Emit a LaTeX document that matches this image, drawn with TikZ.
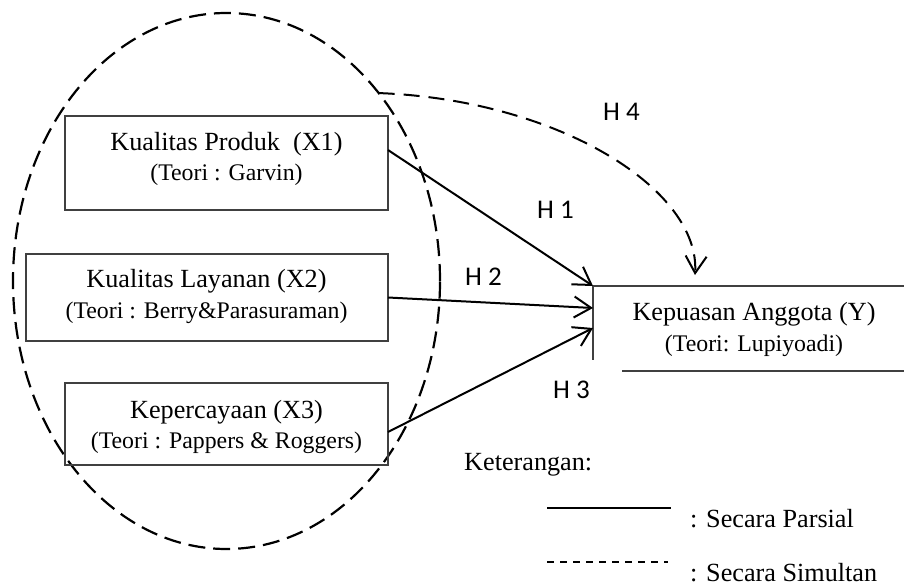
\documentclass[tikz,border=0pt]{standalone}
\usepackage{fontspec}
\setmainfont{Liberation Serif}
\newfontfamily\hfont{Carlito}
\usetikzlibrary{arrows.meta,shapes.geometric}
\definecolor{boxgray}{HTML}{404040}
\begin{document}
\begin{tikzpicture}[x=1pt,y=-1pt,
  boxnode/.style={draw=boxgray,line width=1.3pt,inner sep=0pt,outer sep=0pt},
  tbig/.style={font=\fontsize{26.2pt}{30pt}\selectfont,anchor=base,inner sep=0pt},
  tsmall/.style={font=\fontsize{23.8pt}{28pt}\selectfont,anchor=base,inner sep=0pt},
  tleg/.style={font=\fontsize{26.2pt}{30pt}\selectfont,anchor=base west,inner sep=0pt},
  hlab/.style={font=\hfont\fontsize{27pt}{30pt}\selectfont,anchor=base west,inner sep=0pt},
  barb/.style={-{Straight Barb[length=17pt,width=21pt,line width=2pt]}},
  solidarrow/.style={barb,line width=2pt},
  simarrow/.style={barb,line width=2pt,dash pattern=on 16pt off 9pt},
  ylines/.style={draw=boxgray,line width=1.5pt}
]
\useasboundingbox (0,0) rectangle (904,586);

% dashed ellipse
\node[ellipse,draw,line width=2.2pt,dash pattern=on 17pt off 8pt,inner sep=0pt,outer sep=0pt,
      minimum width=427pt,minimum height=536pt] (xs) at (226.5,281) {};

% independent variable boxes
\node[boxnode,minimum width=323pt,minimum height=94pt] (x1) at (226.5,163) {};
\node[boxnode,minimum width=362pt,minimum height=87pt] (x2) at (207,297.5) {};
\node[boxnode,minimum width=323pt,minimum height=82pt] (x3) at (226.5,424) {};

\node[tbig] (x1a) at (226.5,150.5) {Kualitas Produk\ \ (X1)};
\node[tsmall] (x1b) at (226.5,180.5) {(Teori : Garvin)};
\node[tbig] (x2a) at (206.5,287.7) {Kualitas Layanan (X2)};
\node[tsmall] (x2b) at (206.5,318) {(Teori : Berry\&Parasuraman)};
\node[tbig] (x3a) at (226.5,418) {Kepercayaan (X3)};
\node[tsmall] (x3b) at (226.5,448) {(Teori : Pappers \& Roggers)};

% dependent variable (open box)
\node[inner sep=0pt,outer sep=0pt,minimum width=311pt,minimum height=85pt] (y) at (748.5,328.5) {};
\draw[ylines] (y.north west) -- (y.north east);
\draw[ylines] (y.north west) -- ([yshift=11pt]y.south west);
\draw[ylines] ([xshift=29pt]y.south west) -- (y.south east);
\node[tbig] (ya) at (754,320.7) {Kepuasan Anggota (Y)};
\node[tsmall] (yb) at (754,351.7) {(Teori: Lupiyoadi)};

% arrows
\draw[solidarrow] ([yshift=13pt]x1.east) -- (y.north west);
\draw[solidarrow] (x2.east) -- ([yshift=-22pt]y.north west);
\draw[solidarrow] ([yshift=-8pt]x3.east) -- ([yshift=-42pt]y.north west);
\draw[simarrow] (xs.51) .. controls (560,100) and (700,190) .. ([xshift=102pt,yshift=11pt]y.north west);

% hypothesis labels
\node[hlab] (h4) at (603,120) {H 4};
\node[hlab] (h1) at (537,218.7) {H 1};
\node[hlab] (h2) at (465,285) {H 2};
\node[hlab] (h3) at (553,398) {H 3};

% legend
\node[tleg] (ket) at (464,470) {Keterangan:};
\coordinate (ls1) at (547,508);
\coordinate (ls2) at (671,508);
\coordinate (ld1) at (547,562);
\coordinate (ld2) at (668,562);
\draw[line width=2pt] (ls1) -- (ls2);
\draw[line width=1.6pt,dash pattern=on 7pt off 6pt] (ld1) -- (ld2);
\node[tleg] (lp) at (690,527.7) {: Secara Parsial};
\node[tleg] (lsim) at (690,581) {: Secara Simultan};
\end{tikzpicture}
\end{document}
